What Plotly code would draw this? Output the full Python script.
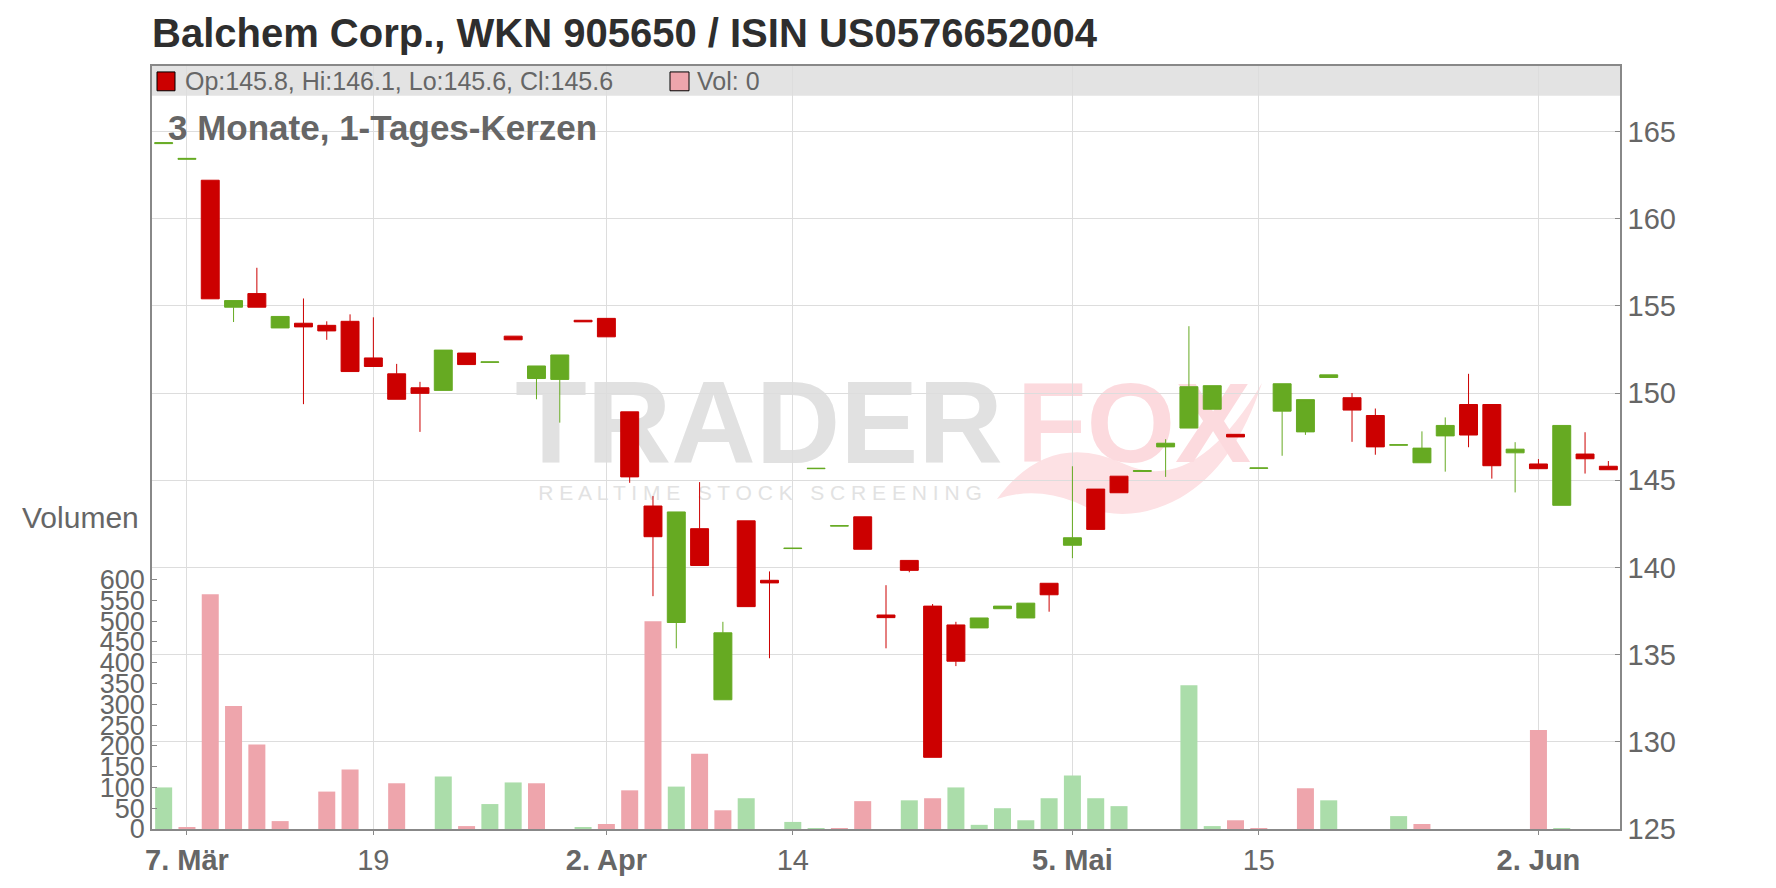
import plotly.graph_objects as go

# ---------------- data ----------------
dates = [
    "2025-03-06", "2025-03-07", "2025-03-10", "2025-03-11", "2025-03-12", "2025-03-13", "2025-03-14",
    "2025-03-17", "2025-03-18", "2025-03-19", "2025-03-20", "2025-03-21", "2025-03-24", "2025-03-25",
    "2025-03-26", "2025-03-27", "2025-03-28", "2025-03-31",
    "2025-04-01", "2025-04-02", "2025-04-03", "2025-04-04", "2025-04-07", "2025-04-08", "2025-04-09",
    "2025-04-10", "2025-04-11", "2025-04-14", "2025-04-15", "2025-04-16", "2025-04-17", "2025-04-22",
    "2025-04-23", "2025-04-24", "2025-04-25", "2025-04-28", "2025-04-29", "2025-04-30",
    "2025-05-02", "2025-05-05", "2025-05-06", "2025-05-07", "2025-05-08", "2025-05-09", "2025-05-12",
    "2025-05-13", "2025-05-14", "2025-05-15", "2025-05-16", "2025-05-19", "2025-05-20", "2025-05-21",
    "2025-05-22", "2025-05-23", "2025-05-26", "2025-05-27", "2025-05-28", "2025-05-29", "2025-05-30",
    "2025-06-02", "2025-06-03", "2025-06-04", "2025-06-05",
]

opens = [164.30, 163.40, 162.20, 154.92, 155.70, 153.73, 154.00, 153.88, 154.11, 152.01,
         151.10, 150.30, 150.15, 152.29, 151.76, 153.26, 150.83, 150.78, 154.17, 154.28,
         148.92, 143.52, 136.84, 142.22, 132.41, 142.67, 139.26, 141.08, 145.66, 142.37,
         142.90, 137.27, 140.40, 137.78, 136.70, 136.53, 137.63, 137.10, 139.09, 141.27,
         144.49, 145.23, 145.50, 146.91, 147.99, 149.07, 147.63, 145.68, 148.96, 147.77,
         150.89, 149.73, 148.71, 147.01, 146.00, 147.54, 149.34, 149.34, 146.57, 145.93,
         143.56, 146.50, 145.80]
highs = [164.35, 163.45, 162.20, 155.30, 157.18, 154.39, 155.42, 154.11, 154.51, 154.34,
         151.67, 150.64, 152.46, 152.29, 151.78, 153.26, 151.55, 152.18, 154.17, 154.28,
         148.92, 144.09, 143.18, 144.89, 136.88, 142.67, 139.77, 141.10, 145.68, 142.39,
         142.90, 138.98, 140.40, 137.90, 136.88, 137.10, 137.78, 137.95, 139.09, 145.80,
         144.49, 145.23, 145.55, 147.35, 153.83, 150.42, 147.63, 145.70, 150.53, 149.62,
         151.04, 150.00, 149.11, 147.03, 147.80, 148.60, 151.10, 149.34, 147.18, 146.21,
         148.14, 147.75, 146.10]
lows = [164.30, 163.40, 155.40, 154.07, 154.92, 153.73, 149.36, 153.05, 151.23, 151.52,
        149.64, 147.77, 150.15, 151.63, 151.76, 153.05, 149.64, 148.30, 154.08, 153.22,
        144.85, 138.35, 135.36, 140.11, 132.41, 137.75, 134.79, 141.08, 145.66, 142.37,
        141.04, 135.36, 139.72, 129.11, 134.34, 136.53, 137.63, 137.10, 137.46, 140.53,
        142.18, 144.28, 145.50, 145.19, 147.99, 149.07, 147.48, 145.68, 146.40, 147.60,
        150.89, 147.20, 146.46, 147.01, 146.00, 145.49, 146.89, 145.09, 144.30, 145.66,
        143.56, 145.38, 145.60]
closes = [164.35, 163.45, 155.40, 155.30, 154.92, 154.39, 153.79, 153.56, 151.23, 151.52,
          149.64, 149.98, 152.46, 151.63, 151.78, 153.05, 151.55, 152.18, 154.08, 153.22,
          145.19, 141.76, 143.18, 140.11, 136.25, 137.75, 139.11, 141.10, 145.68, 142.39,
          141.04, 137.12, 139.83, 129.11, 134.62, 137.10, 137.78, 137.95, 138.43, 141.70,
          142.18, 144.28, 145.55, 147.12, 150.36, 150.42, 147.48, 145.70, 150.53, 149.62,
          151.04, 149.02, 146.91, 147.03, 146.84, 148.14, 147.59, 145.83, 146.78, 145.66,
          148.14, 146.23, 145.60]
volumes = [100, 3, 565, 296, 203, 19, 0, 90, 143, 0,
           110, 0, 126, 7, 60, 112, 110, 0, 3, 12,
           93, 500, 102, 181, 45, 74, 0, 17, 2, 2,
           67, 0, 69, 74, 100, 10, 50, 21, 74, 129,
           74, 55, 0, 0, 346, 7, 21, 2, 0, 98,
           69, 0, 0, 31, 12, 0, 0, 0, 0, 238,
           2, 0, 0]

tick_dates = ["2025-03-07", "2025-03-19", "2025-04-02", "2025-04-14", "2025-05-05", "2025-05-15", "2025-06-02"]
tick_labels = ["<b>7. Mär</b>", "19", "<b>2. Apr</b>", "14", "<b>5. Mai</b>", "15", "<b>2. Jun</b>"]
price_ticks = [125, 130, 135, 140, 145, 150, 155, 160, 165]
volume_ticks = list(range(0, 601, 50))

title_text = "Balchem Corp., WKN 905650 / ISIN US0576652004"
subtitle_text = "3 Monate, 1-Tages-Kerzen"

# ---------------- style ----------------
W, H = 1776, 888
ML, MR, MT, MB = 152, 156, 66, 52
PW, PH = W - ML - MR, H - MT - MB
FONT = "Liberation Sans, Arial, sans-serif"
RED = "#cc0000"
GREEN = "#66aa22"
VOL_UP = "#abddaa"
VOL_DOWN = "#eea5ac"
TXT = "#666666"
GRID = "#dddddd"
AXIS = "#888888"


def px_x(px):
    return (px - ML) / PW


def px_y(py):
    return (H - MB - py) / PH


def px_path(points):
    parts = []
    for cmd, pts in points:
        coords = " ".join("%.5f,%.5f" % (px_x(a), px_y(b)) for a, b in pts)
        parts.append(cmd + " " + coords)
    return " ".join(parts) + " Z"


xs = list(range(len(dates)))
tickvals = [dates.index(d) for d in tick_dates]
vol_colors = []
for i, c in enumerate(closes):
    if i == 0 or c >= closes[i - 1]:
        vol_colors.append(VOL_UP)
    else:
        vol_colors.append(VOL_DOWN)

fig = go.Figure()

fig.add_trace(go.Bar(
    x=xs, y=volumes, marker=dict(color=vol_colors, line=dict(width=0)),
    yaxis="y", xaxis="x", showlegend=False, hoverinfo="skip",
))

fig.add_trace(go.Candlestick(
    x=xs, open=opens, high=highs, low=lows, close=closes,
    increasing=dict(line=dict(color=GREEN, width=1), fillcolor=GREEN),
    decreasing=dict(line=dict(color=RED, width=1), fillcolor=RED),
    whiskerwidth=0, yaxis="y2", xaxis="x", showlegend=False,
))

swoosh = px_path([
    ("M", [(997, 503)]),
    ("Q", [(1050, 432), (1125, 468)]),
    ("Q", [(1195, 500), (1262, 386)]),
    ("Q", [(1235, 470), (1180, 502)]),
    ("Q", [(1125, 532), (1075, 506)]),
    ("Q", [(1035, 490), (997, 503)]),
])

shapes = [
    # header band
    dict(type="rect", xref="paper", yref="paper", x0=0, x1=1, y0=px_y(96), y1=1,
         fillcolor="#e3e3e3", line=dict(width=0), layer="below"),
    # legend swatches
    dict(type="rect", xref="paper", yref="paper", x0=px_x(157), x1=px_x(175), y0=px_y(91), y1=px_y(72),
         fillcolor=RED, line=dict(color="#000000", width=1), layer="above"),
    dict(type="rect", xref="paper", yref="paper", x0=px_x(670), x1=px_x(689), y0=px_y(91), y1=px_y(72),
         fillcolor=VOL_DOWN, line=dict(color="#000000", width=1), layer="above"),
    # watermark
    dict(type="path", xref="paper", yref="paper", path=swoosh,
         fillcolor="#fde1e4", line=dict(width=0), layer="below"),
    dict(type="rect", xref="paper", yref="paper", x0=px_x(500), x1=px_x(1018), y0=px_y(460), y1=px_y(370),
         line=dict(width=0), fillcolor="rgba(0,0,0,0)", layer="below",
         label=dict(text="TRADER", textposition="middle center",
                    font=dict(family=FONT, size=117, color="#e1e1e1", weight="bold"))),
    dict(type="rect", xref="paper", yref="paper", x0=px_x(1012), x1=px_x(1256), y0=px_y(460), y1=px_y(370),
         line=dict(width=0), fillcolor="rgba(0,0,0,0)", layer="below",
         label=dict(text="FOX", textposition="middle center",
                    font=dict(family=FONT, size=114, color="#fcdade", weight="bold"))),
    dict(type="rect", xref="paper", yref="paper", x0=px_x(520), x1=px_x(1000), y0=px_y(506), y1=px_y(482),
         line=dict(width=0), fillcolor="rgba(0,0,0,0)", layer="below",
         label=dict(text="R E A L T I M E   S T O C K   S C R E E N I N G", textposition="middle center",
                    font=dict(family=FONT, size=21, color="#e2e2e2"))),
]

last = len(dates) - 1
legend_text = "Op:%.1f, Hi:%.1f, Lo:%.1f, Cl:%.1f" % (opens[last], highs[last], lows[last], closes[last])
vol_text = "Vol: %d" % volumes[last]

annotations = [
    dict(text=legend_text, xref="paper", yref="paper", x=px_x(183), y=px_y(81.5),
         xanchor="left", yanchor="middle", showarrow=False, font=dict(family=FONT, size=25, color=TXT)),
    dict(text=vol_text, xref="paper", yref="paper", x=px_x(695), y=px_y(81.5),
         xanchor="left", yanchor="middle", showarrow=False, font=dict(family=FONT, size=25, color=TXT)),
    dict(text="<b>" + subtitle_text + "</b>", xref="paper", yref="paper", x=px_x(166), y=px_y(128),
         xanchor="left", yanchor="middle", showarrow=False, font=dict(family=FONT, size=35, color=TXT)),
    dict(text="Volumen", xref="paper", yref="paper", x=px_x(141), y=px_y(522),
         xanchor="right", yanchor="middle", showarrow=False, font=dict(family=FONT, size=30, color=TXT)),
]

fig.update_layout(
    width=W, height=H, autosize=False,
    margin=dict(l=ML, r=MR, t=MT, b=MB, pad=0),
    paper_bgcolor="white", plot_bgcolor="white",
    title=dict(text="<b>" + title_text + "</b>", xref="paper", x=0, xanchor="left",
               yref="container", y=1 - 33 / H, yanchor="middle",
               font=dict(family=FONT, size=40, color="#2e2e2e")),
    showlegend=False,
    bargap=0.27,
    boxgap=0.23, boxgroupgap=0,
    shapes=shapes,
    annotations=annotations,
    xaxis=dict(
        range=[-0.5, len(dates) - 0.5], tickmode="array", tickvals=tickvals, ticktext=tick_labels,
        showgrid=True, gridcolor=GRID, gridwidth=1,
        ticks="outside", ticklen=4, tickcolor=AXIS,
        showline=True, linecolor=AXIS, linewidth=1.5, mirror=True,
        tickfont=dict(family=FONT, size=29, color=TXT),
        rangeslider=dict(visible=False), zeroline=False, fixedrange=True,
    ),
    yaxis=dict(
        range=[0, PH / 0.4195], tickmode="array", tickvals=volume_ticks,
        showgrid=False, zeroline=False,
        ticks="inside", ticklen=5, tickcolor=AXIS,
        showline=True, linecolor=AXIS, linewidth=1.5,
        tickfont=dict(family=FONT, size=27, color=TXT), side="left", fixedrange=True,
    ),
    yaxis2=dict(
        overlaying="y", side="right",
        range=[125, 125 + PH / 17.6], tickmode="array", tickvals=price_ticks,
        showgrid=True, gridcolor=GRID, gridwidth=1, zeroline=False,
        ticks="inside", ticklen=5, tickcolor=AXIS,
        showline=True, linecolor=AXIS, linewidth=1.5,
        tickfont=dict(family=FONT, size=29, color=TXT), fixedrange=True,
    ),
)

fig.write_html(
    "out.html",
    config={"displayModeBar": False},
    post_script="document.body.style.margin='0';document.body.style.overflow='hidden';",
)
